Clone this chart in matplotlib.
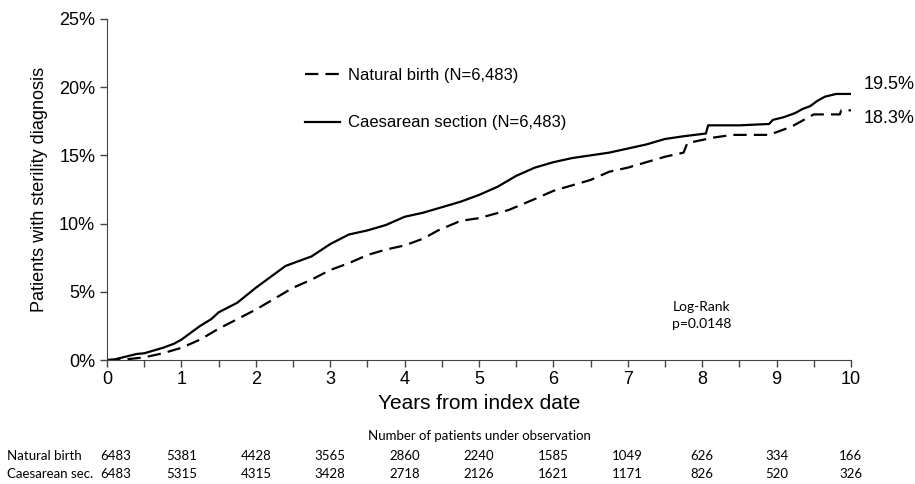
import matplotlib.pyplot as plt

# Kaplan-Meier style cumulative incidence
years_cs = [0, 0.1, 0.25, 0.4, 0.5, 0.75, 0.9, 1.0, 1.1, 1.25, 1.4, 1.5, 1.75, 2.0, 2.25, 2.4, 2.5,
            2.75, 3.0, 3.25, 3.5, 3.75, 4.0, 4.25, 4.5, 4.75, 5.0, 5.25, 5.5, 5.75, 6.0, 6.25, 6.5,
            6.75, 7.0, 7.25, 7.5, 7.75, 8.05, 8.08, 8.5, 8.9, 8.95, 9.1, 9.25, 9.35, 9.45, 9.55,
            9.65, 9.8, 10.0]
pct_cs = [0, 0.05, 0.25, 0.45, 0.5, 0.9, 1.2, 1.5, 1.9, 2.5, 3.0, 3.5, 4.2, 5.3, 6.3, 6.9, 7.1,
          7.6, 8.5, 9.2, 9.5, 9.9, 10.5, 10.8, 11.2, 11.6, 12.1, 12.7, 13.5, 14.1, 14.5, 14.8, 15.0,
          15.2, 15.5, 15.8, 16.2, 16.4, 16.6, 17.2, 17.2, 17.3, 17.6, 17.8, 18.1, 18.4, 18.6, 19.0,
          19.3, 19.5, 19.5]

years_nb = [0, 0.25, 0.5, 0.75, 1.0, 1.25, 1.5, 1.75, 2.0, 2.25, 2.5, 2.75, 3.0, 3.25, 3.5, 3.75,
            4.0, 4.25, 4.45, 4.75, 5.0, 5.4, 5.75, 6.0, 6.25, 6.5, 6.75, 7.0, 7.25, 7.5, 7.75, 7.8,
            8.15, 8.4, 8.9, 9.0, 9.2, 9.4, 9.5, 9.85, 9.87, 10.0]
pct_nb = [0, 0.05, 0.2, 0.5, 0.9, 1.5, 2.3, 3.0, 3.7, 4.5, 5.3, 5.9, 6.6, 7.1, 7.7, 8.1,
          8.4, 8.9, 9.5, 10.2, 10.4, 11.0, 11.8, 12.4, 12.8, 13.2, 13.8, 14.1, 14.5, 14.9, 15.2, 15.9,
          16.3, 16.5, 16.5, 16.7, 17.1, 17.7, 18.0, 18.0, 18.3, 18.3]

label_nb = "Natural birth (N=6,483)"
label_cs = "Caesarean section (N=6,483)"
end_labels = ["19.5%", "18.3%"]

# number at risk
risk_years = list(range(11))
risk_nb = [6483, 5381, 4428, 3565, 2860, 2240, 1585, 1049, 626, 334, 166]
risk_cs = [6483, 5315, 4315, 3428, 2718, 2126, 1621, 1171, 826, 520, 326]

main_font = "Liberation Sans"
table_font = "Lato"

fig = plt.figure(figsize=(9.15, 4.84), dpi=100)
ax = fig.add_axes([0.117, 0.256, 0.813, 0.705])

ax.plot(years_nb, pct_nb, color="black", lw=1.6, linestyle=(0, (6, 3.2)), label=label_nb)
ax.plot(years_cs, pct_cs, color="black", lw=1.6, label=label_cs)

ax.set_xlim(0, 10)
ax.set_ylim(0, 25)
ax.set_xticks(range(11))
ax.set_xticks([x + 0.5 for x in range(10)], minor=True)
ax.set_yticks(range(0, 26, 5))
ax.set_yticklabels([f"{v}%" for v in range(0, 26, 5)], family=main_font, fontsize=13)
ax.set_xticklabels([str(x) for x in range(11)], family=main_font, fontsize=13)
ax.tick_params(axis="both", which="both", direction="out", length=5, width=1, color="#444444")
ax.tick_params(axis="x", pad=3)
for s in ["top", "right"]:
    ax.spines[s].set_visible(False)
for s in ["left", "bottom"]:
    ax.spines[s].set_color("#444444")

ax.set_ylabel("Patients with sterility diagnosis", family=main_font, fontsize=13, labelpad=8)
ax.set_xlabel("Years from index date", family=main_font, fontsize=15, labelpad=4)

leg = ax.legend(loc="upper left", bbox_to_anchor=(0.246, 0.9), frameon=False,
                prop={"family": main_font, "size": 12}, handlelength=2.1,
                labelspacing=1.95, handletextpad=0.5)

ax.text(10.17, 20.2, end_labels[0], family=main_font, fontsize=13, va="center", ha="left")
ax.text(10.17, 17.7, end_labels[1], family=main_font, fontsize=13, va="center", ha="left")

ax.text(7.6, 3.3, "Log-Rank\np=0.0148", family=table_font, fontsize=10,
        va="center", ha="left", linespacing=1.5)

# at-risk table below the axis
trans = ax.get_xaxis_transform()
ax.text(5, -0.223, "Number of patients under observation", transform=trans,
        family=table_font, fontsize=9.5, ha="center", va="center", clip_on=False)
fig.text(0.008, 1 - 456 / 484, "Natural birth", family=table_font, fontsize=9.5, va="center")
fig.text(0.008, 1 - 474 / 484, "Caesarean sec.", family=table_font, fontsize=9.5, va="center")
for i, x in enumerate(risk_years):
    xx = x + 0.12 if x == 0 else x
    ax.text(xx, -0.282, str(risk_nb[i]), transform=trans, family=table_font, fontsize=9.5,
            ha="center", va="center", clip_on=False)
    ax.text(xx, -0.334, str(risk_cs[i]), transform=trans, family=table_font, fontsize=9.5,
            ha="center", va="center", clip_on=False)

fig.savefig("out.png", dpi=100)
